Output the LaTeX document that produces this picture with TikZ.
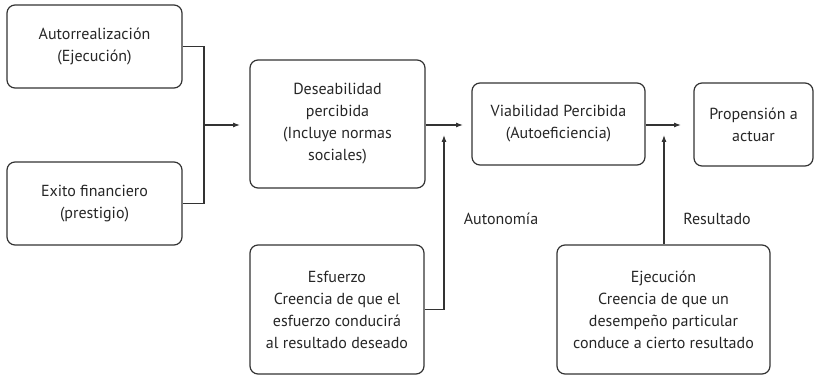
\documentclass[tikz,border=0pt]{standalone}
\usepackage{fontspec}
\setmainfont{PT Sans}
\usetikzlibrary{arrows.meta}
\begin{document}
\begin{tikzpicture}[x=1pt,y=-1pt,
  box/.style={draw=black!80,line width=1.2pt,rounded corners=8pt,align=center,inner sep=0pt,
    font=\fontsize{16}{22}\selectfont,text=black!85},
  lbl/.style={font=\fontsize{16}{22}\selectfont,text=black!85,inner sep=0pt},
  conn/.style={draw=black!80,line width=1.1pt},
  arr/.style={conn,-{Latex[length=7pt,width=5pt]}}]
\useasboundingbox (0,0) rectangle (815,377);
\node[box,minimum width=175pt,minimum height=83pt] (a) at (94.5,46.5) {Autorrealización\\(Ejecución)};
\node[box,minimum width=175pt,minimum height=83pt] (b) at (94.5,203.5) {Exito financiero\\(prestigio)};
\node[box,minimum width=175pt,minimum height=128pt] (d) at (337.5,124) {Deseabilidad\\percibida\\(Incluye normas\\sociales)};
\node[box,minimum width=173pt,minimum height=82pt] (v) at (558.5,124) {Viabilidad Percibida\\(Autoeficiencia)};
\node[box,minimum width=119pt,minimum height=83pt] (p) at (753.5,124.5) {Propensión a\\actuar};
\node[box,minimum width=174pt,minimum height=129pt] (e) at (337,309.5) {Esfuerzo\\Creencia de que el\\esfuerzo conducirá\\al resultado deseado};
\node[box,minimum width=213pt,minimum height=129pt] (j) at (663.5,309.5) {Ejecución\\Creencia de que un\\desempeño particular\\conduce a cierto resultado};
\node[lbl] (la) at (501,219) {Autonomía};
\node[lbl] (lr) at (717,219) {Resultado};
\coordinate (j1) at (204,125);
\coordinate (t1) at (240,125);
\coordinate (t2) at (463,125);
\coordinate (t3) at (681,125);
\coordinate (u1) at (444,135);
\coordinate (u2) at (664,135);
\draw[conn] (a.east) -| (j1) |- (b.east);
\draw[arr] (j1) -- (t1);
\draw[arr] (d.east |- t2) -- (t2);
\draw[arr] (v.east |- t3) -- (t3);
\draw[arr] (e.east) -| (u1);
\draw[arr] (j.north -| u2) -- (u2);
\end{tikzpicture}
\end{document}
